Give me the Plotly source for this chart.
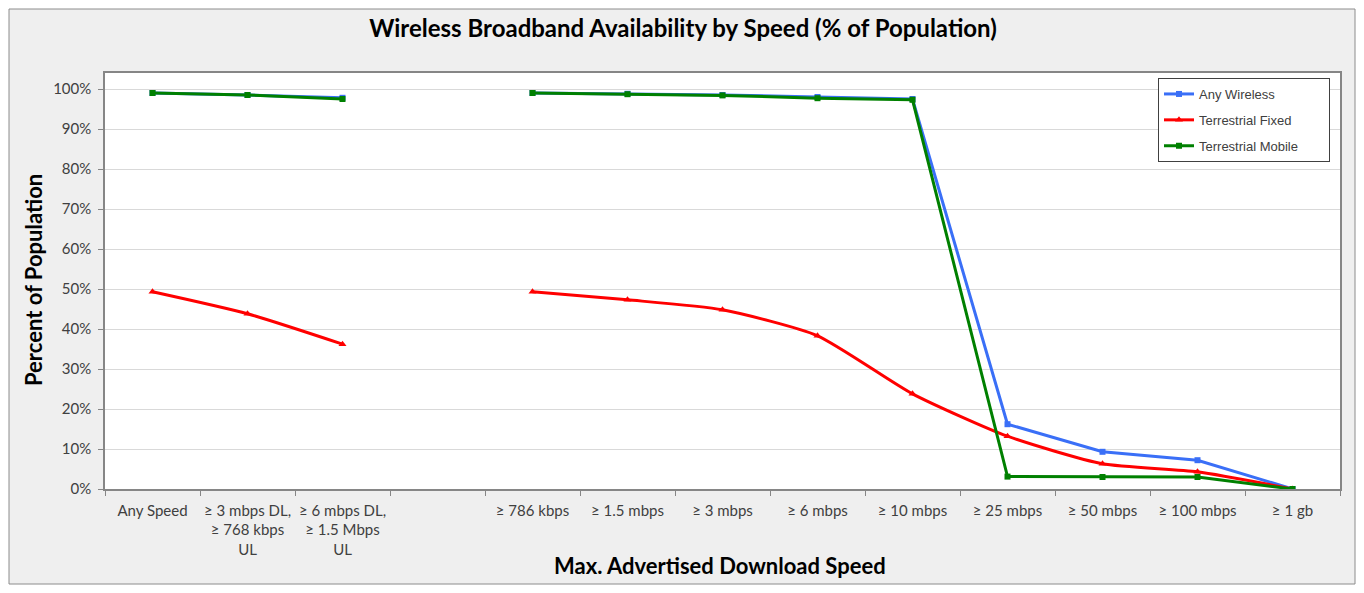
"""Wireless broadband availability by advertised download speed."""

import plotly.graph_objects as go

CATEGORIES = [
    "Any Speed",
    "≥ 3 mbps DL,<br>≥ 768 kbps<br>UL",
    "≥ 6 mbps DL,<br>≥ 1.5 Mbps<br>UL",
    " ",
    "≥ 786 kbps",
    "≥ 1.5 mbps",
    "≥ 3 mbps",
    "≥ 6 mbps",
    "≥ 10 mbps",
    "≥ 25 mbps",
    "≥ 50 mbps",
    "≥ 100 mbps",
    "≥ 1 gb",
]
SERIES_NAMES = ["Any Wireless", "Terrestrial Fixed", "Terrestrial Mobile"]

ANY_WIRELESS = [99.0, 98.5, 97.8, None, 99.0, 98.8, 98.5, 98.0, 97.5, 16.2, 9.3, 7.2, 0.0]
TERRESTRIAL_FIXED = [49.3, 43.8, 36.2, None, 49.3, 47.3, 44.8, 38.3, 23.8, 13.2, 6.3, 4.3, 0.0]
TERRESTRIAL_MOBILE = [99.0, 98.5, 97.5, None, 99.0, 98.7, 98.4, 97.7, 97.3, 3.1, 3.0, 3.0, 0.0]

COLOR_ANY = "#3a6ff7"
COLOR_FIXED = "#ff0000"
COLOR_MOBILE = "#008000"

FONT = "Lato"

# The page body has an 8px margin, so the figure starts at (8, 8) of the window.
OFF = 8
W, H = 1364 - 2 * OFF, 593 - 2 * OFF
# plot area in window pixels
PL, PR, PT, PB = 105, 1340, 73, 489
L, R, T, B = PL - OFF, W - (PR - OFF), PT - OFF, H - (PB - OFF)
PW, PH = W - L - R, H - T - B


def px(x):
    """window x pixel -> paper coordinate"""
    return (x - OFF - L) / PW


def py(y):
    """window y pixel -> paper coordinate"""
    return (H - B - (y - OFF)) / PH


# legend box in the reference is wider than plotly's; pad the longest name
NBSP = "\u00a0"
legend_names = [SERIES_NAMES[0], SERIES_NAMES[1], SERIES_NAMES[2] + NBSP * 7]

fig = go.Figure()
fig.add_trace(
    go.Scatter(
        x=CATEGORIES,
        y=ANY_WIRELESS,
        mode="lines+markers",
        name=legend_names[0],
        legendgroup="a",
        line=dict(color=COLOR_ANY, width=3),
        marker=dict(symbol="square", size=6, color=COLOR_ANY),
    )
)
fig.add_trace(
    go.Scatter(
        x=CATEGORIES,
        y=TERRESTRIAL_FIXED,
        mode="lines+markers",
        name=legend_names[1],
        legendgroup="b",
        line=dict(color=COLOR_FIXED, width=3, shape="spline", smoothing=0.6),
        marker=dict(symbol="triangle-up", size=7, color=COLOR_FIXED),
    )
)
fig.add_trace(
    go.Scatter(
        x=CATEGORIES,
        y=TERRESTRIAL_MOBILE,
        mode="lines+markers",
        name=legend_names[2],
        legendgroup="c",
        line=dict(color=COLOR_MOBILE, width=3),
        marker=dict(symbol="square", size=6, color=COLOR_MOBILE),
    )
)

# outer chart frame with light gray fill, then white plot area on top of it
fig.add_shape(
    type="rect",
    xref="paper",
    yref="paper",
    x0=px(9),
    x1=px(1355),
    y0=py(584),
    y1=py(9),
    fillcolor="#efefef",
    line=dict(color="#8c8c8c", width=1),
    layer="below",
)
fig.add_shape(
    type="rect",
    xref="paper",
    yref="paper",
    x0=0,
    x1=1,
    y0=0,
    y1=1,
    fillcolor="white",
    line=dict(width=0),
    layer="below",
)

# axis titles placed as annotations so the tall tick labels do not push them
fig.add_annotation(
    text="<b>Max. Advertised Download Speed</b>",
    xref="paper",
    yref="paper",
    x=px(720),
    y=py(565),
    xanchor="center",
    yanchor="middle",
    showarrow=False,
    font=dict(family=FONT, size=22, color="black"),
)
fig.add_annotation(
    text="<b>Percent of Population</b>",
    xref="paper",
    yref="paper",
    x=px(33),
    y=py(280),
    xanchor="center",
    yanchor="middle",
    textangle=-90,
    showarrow=False,
    font=dict(family=FONT, size=22, color="black"),
)

fig.update_layout(
    width=W,
    height=H,
    margin=dict(l=L, r=R, t=T, b=B),
    paper_bgcolor="white",
    plot_bgcolor="white",
    font=dict(family=FONT, size=15, color="#404040"),
    title=dict(
        text="<b>Wireless Broadband Availability by Speed (% of Population)</b>",
        x=px(683),
        xref="paper",
        xanchor="center",
        y=1 - (29 - OFF) / H,
        yanchor="middle",
        font=dict(family=FONT, size=24, color="black"),
    ),
    xaxis=dict(
        type="category",
        categoryorder="array",
        categoryarray=CATEGORIES,
        range=[-0.5, len(CATEGORIES) - 0.5],
        automargin=False,
        tickangle=0,
        tickson="boundaries",
        ticks="outside",
        ticklen=5,
        ticklabelstandoff=7,
        tickcolor="#868686",
        showline=True,
        linecolor="#868686",
        linewidth=1.5,
        mirror=True,
        showgrid=False,
        tickfont=dict(family=FONT, size=15, color="#404040"),
    ),
    yaxis=dict(
        range=[0, 104],
        dtick=10,
        tick0=0,
        ticksuffix="%",
        automargin=False,
        ticks="outside",
        ticklen=5,
        ticklabelstandoff=4,
        tickcolor="#868686",
        showline=True,
        linecolor="#868686",
        linewidth=1.5,
        mirror=True,
        gridcolor="#d9d9d9",
        zeroline=False,
        tickfont=dict(family=FONT, size=15, color="#404040"),
    ),
    legend=dict(
        x=px(1158),
        y=py(78),
        xanchor="left",
        yanchor="top",
        bgcolor="white",
        bordercolor="#404040",
        borderwidth=1,
        font=dict(family="Liberation Sans", size=13, color="#404040"),
        tracegroupgap=6,
    ),
)

fig.write_html("out.html")
